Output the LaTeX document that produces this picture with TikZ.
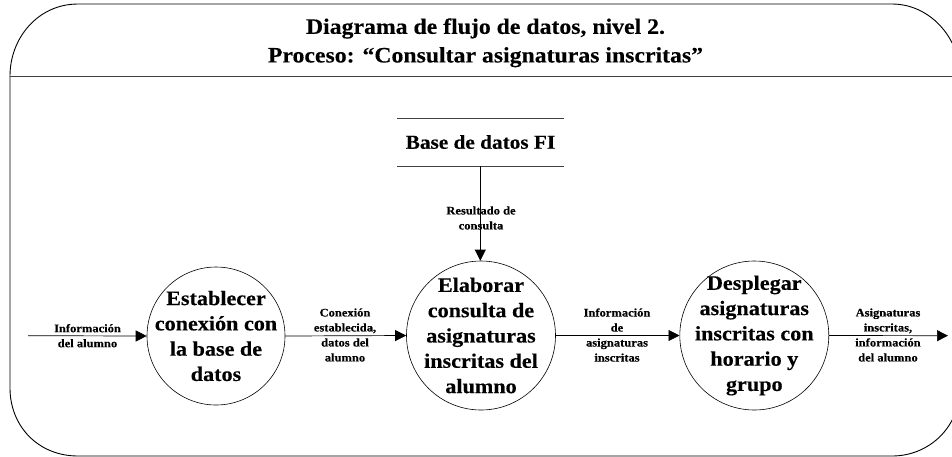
\documentclass[tikz,border=0pt]{standalone}
\usepackage{fontspec}
\setmainfont{Liberation Serif}[FakeStretch=1.08,BoldFeatures={FakeBold=0.25}]
\usetikzlibrary{arrows.meta,shapes.geometric}
\tikzset{
  x=1pt,y=-1pt,
  frame/.style={line width=0.9pt,draw=black},
  rule/.style={line width=1pt,draw=black!75},
  proc/.style={circle,draw=black,line width=0.6pt,inner sep=-40pt,align=center,font=\fontsize{20.5}{25.3}\selectfont\bfseries},
  flow/.style={line width=0.7pt,draw=black,-{Triangle[length=11pt,width=11pt]},shorten >=0pt},
  flab/.style={align=center,inner sep=0pt,font=\fontsize{11.6}{15}\selectfont\bfseries},
  ttl/.style={align=center,inner sep=0pt,font=\fontsize{22}{28.6}\selectfont\bfseries},
  store/.style={inner sep=0pt,font=\fontsize{19.7}{22}\selectfont\bfseries}
}
\begin{document}
\begin{tikzpicture}
\useasboundingbox (0,0) rectangle (952,456);
\clip (0,0) rectangle (952,456);
\draw[frame] (10,76) .. controls (10,38) and (38,4) .. (78,4) -- (892,4) .. controls (930,4) and (960,38) .. (960,76)
  -- (960,388) .. controls (960,426) and (930,456) .. (892,456) -- (78,456) .. controls (38,456) and (10,426) .. (10,388) -- cycle;
\coordinate (hl) at (10,76.5);
\coordinate (hr) at (960,76.5);
\draw[rule] (hl) -- (hr);
\node[ttl] (title) at (485.5,42.8) {Diagrama de flujo de datos, nivel 2.\\Proceso: “Consultar asignaturas inscritas”};
% store
\coordinate (s1) at (397,118); \coordinate (s2) at (564,118);
\coordinate (s3) at (397,166); \coordinate (s4) at (564,166);
\draw[rule] (s1) -- (s2);
\draw[rule] (s3) -- (s4);
\node[store] (db) at (480.5,142) {Base de datos FI};
\coordinate (dbb) at (480.3,166);
% processes
\node[proc,minimum size=138pt] (p1) at (216,336) {Establecer\\conexión con\\la base de\\datos};
\node[proc,minimum size=149pt] (p2) at (481,335.5) {Elaborar\\consulta de\\asignaturas\\inscritas del\\alumno};
\node[proc,minimum size=149pt] (p3) at (754.3,335.5) {Desplegar\\asignaturas\\inscritas con\\horario y\\grupo};
\coordinate (in) at (28,335.7);
\coordinate (out) at (948,335.7);
\draw[flow] (in) -- (p1.west);
\draw[flow] (p1.east) -- (p2.west);
\draw[flow] (p2.east) -- (p3.west);
\draw[flow] (p3.east) -- (out);
\draw[flow] (dbb) -- (p2.north -| dbb);
\node[flab] (l1) at (87.5,335.7) {Información\\del alumno};
\node[flab] (l2) at (345,335) {Conexión\\establecida,\\datos del\\alumno};
\node[flab] (l3) at (617,335) {Información\\de\\asignaturas\\inscritas};
\node[flab] (l4) at (888,335) {Asignaturas\\inscritas,\\información\\del alumno};
\node[flab] (l5) at (481,218) {Resultado de\\consulta};
\end{tikzpicture}
\end{document}
